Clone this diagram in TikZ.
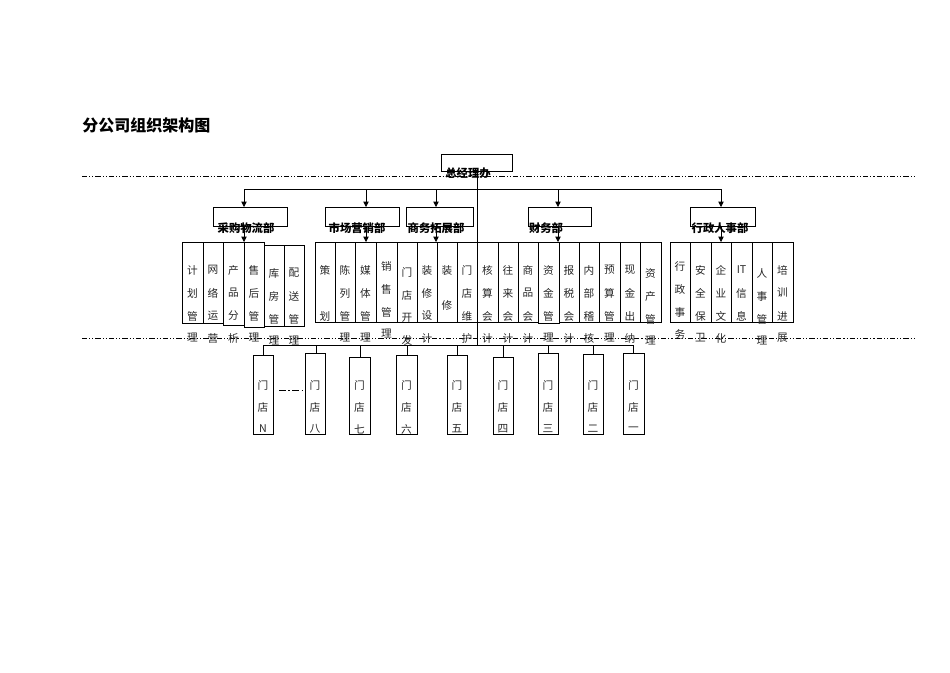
\documentclass[tikz,border=0pt]{standalone}
\usepackage{fontspec}
\newfontfamily\cjk{Noto Sans CJK SC}
\usetikzlibrary{arrows.meta}
\begin{document}
\begin{tikzpicture}[x=0.75pt,y=-0.75pt,
  bx/.style={draw,line width=0.6pt,inner sep=0pt},
  lbl/.style={font=\cjk\bfseries\fontsize{8.5}{9}\selectfont,inner sep=0pt},
  ch/.style={font=\cjk\fontsize{8}{8}\selectfont,inner sep=0pt,text=black!85},
  dd/.style={line width=0.5pt,dash pattern=on 4pt off 1.5pt on 0.8pt off 1.5pt on 0.8pt off 1.5pt},
  arr/.style={-{Triangle[length=4pt,width=4pt]},line width=0.6pt},
  ln/.style={line width=0.6pt}]
\useasboundingbox (0,0) rectangle (950,672);
\node[font=\cjk\bfseries\fontsize{12}{12}\selectfont,anchor=west,inner sep=0pt] (title) at (82,125) {分公司组织架构图};
\coordinate (d1a) at (82,176); \coordinate (d1b) at (915,176);
\coordinate (d2a) at (82,338); \coordinate (d2b) at (915,338);
\draw[dd] (d1a) -- (d1b);
\draw[dd] (d2a) -- (d2b);
% top
\draw[bx] (441,154) rectangle (512,171);
\node[bx,draw=none,minimum width=71\pgflinewidth] (top) at (476.5,162) {};
\node[lbl] (toplbl) at (468,173) {总经理办};
\coordinate (vtop) at (477,171); \coordinate (vbot) at (477,345);
\draw[ln] (vtop) -- (vbot);
\coordinate (hl) at (244,189); \coordinate (hr) at (721,189);
\draw[ln] (hl) -- (hr);
% departments
\foreach \n/\l/\r/\ax/\t/\tx in {
  d1/213/287/244/采购物流部/246,
  d2/325/399/366/市场营销部/357,
  d3/406/473/436/商务拓展部/436,
  d4/528/591/558/财务部/546,
  d5/690/755/721/行政人事部/720}{
  \node[bx,minimum width={(\r-\l)*0.75pt},minimum height=14.25pt] (\n) at ({(\l+\r)/2},216.5) {};
  \node[lbl] (\n t) at (\tx,228) {\t};
  \coordinate (\n h) at (\ax,189);
  \draw[arr] (\n h) -- (\ax,207);
  \coordinate (\n s) at (\ax,226);
  \draw[arr] (\n s) -- (\ax,242);
}
% columns
\foreach \k/\l/\r/\t/\b/\s/\ca/\cb/\cc/\cd in {
 1/182/203/242/323/0/计/划/管/理,
 2/203/223/242/323/0/网/络/运/营,
 3/223/244/242/325/0/产/品/分/析,
 4/244/264/242/327/0/售/后/管/理,
 5/264/284/245/326/3/库/房/管/理,
 6/284/304/245/326/3/配/送/管/理,
 7/315/335/242/322/0/策/{}/划/{},
 8/335/355/242/322/0/陈/列/管/理,
 9/355/376/242/322/0/媒/体/管/理,
 10/376/397/242/322/-4/销/售/管/理,
 11/397/417/242/322/2/门/店/开/发,
 12/417/437/242/322/0/装/修/设/计,
 13/437/457/242/322/0/装/{}/{}/{},
 14/457/477/242/322/0/门/店/维/护,
 15/477/498/242/322/0/核/算/会/计,
 16/498/518/242/322/0/往/来/会/计,
 17/518/538/242/322/0/商/品/会/计,
 18/538/559/242/323/0/资/金/管/理,
 19/559/579/242/322/0/报/税/会/计,
 20/579/599/242/322/0/内/部/稽/核,
 21/599/620/242/322/0/预/算/管/理,
 22/620/640/242/322/0/现/金/出/纳,
 23/640/661/242/322/3/资/产/管/理,
 24/670/690/242/322/-4/行/政/事/务,
 25/690/711/242/322/0/安/全/保/卫,
 26/711/731/242/322/0/企/业/文/化,
 27/731/752/242/322/0/IT/信/息/{},
 28/752/772/242/322/3/人/事/管/理,
 29/772/793/242/322/0/培/训/进/展}{
  \node[bx,minimum width={(\r-\l)*0.75pt},minimum height={(\b-\t)*0.75pt}] (c\k) at ({(\l+\r)/2},{(\t+\b)/2}) {};
  \node[ch] (c\k a) at ({(\l+\r)/2},{270+\s}) {\ca};
  \node[ch] (c\k b) at ({(\l+\r)/2},{293+\s}) {\cb};
  \node[ch] (c\k c) at ({(\l+\r)/2},{316+\s}) {\cc};
  \node[ch] (c\k d) at ({(\l+\r)/2},{338+\s}) {\cd};
}
\node[ch] (c13x) at (447,305) {修};
% stores
\coordinate (sbl) at (263,345); \coordinate (sbr) at (633,345);
\draw[ln] (sbl) -- (sbr);
\foreach \k/\l/\r/\t/\tk/\c in {
 N/253/273/355/263/N, 8/305/325/353/316/八, 7/349/370/357/360/七,
 6/396/417/355/407/六, 5/447/467/355/457/五, 4/493/513/357/503/四,
 3/538/558/353/548/三, 2/583/603/354/593/二, 1/623/644/353/633/一}{
  \node[bx,minimum width={(\r-\l)*0.75pt},minimum height={(434-\t)*0.75pt}] (s\k) at ({(\l+\r)/2},{(\t+434)/2}) {};
  \node[ch] (s\k a) at ({(\l+\r)/2},385) {门};
  \node[ch] (s\k b) at ({(\l+\r)/2},407) {店};
  \node[ch] (s\k c) at ({(\l+\r)/2},429) {\c};
  \coordinate (s\k t) at (\tk,345);
  \draw[ln] (s\k t) -- (\tk,\t);
}
\coordinate (ga) at (279,390); \coordinate (gb) at (302,390);
\draw[ln,dash pattern=on 5pt off 2pt on 1pt off 2pt] (ga) -- (gb);
\end{tikzpicture}
\end{document}
